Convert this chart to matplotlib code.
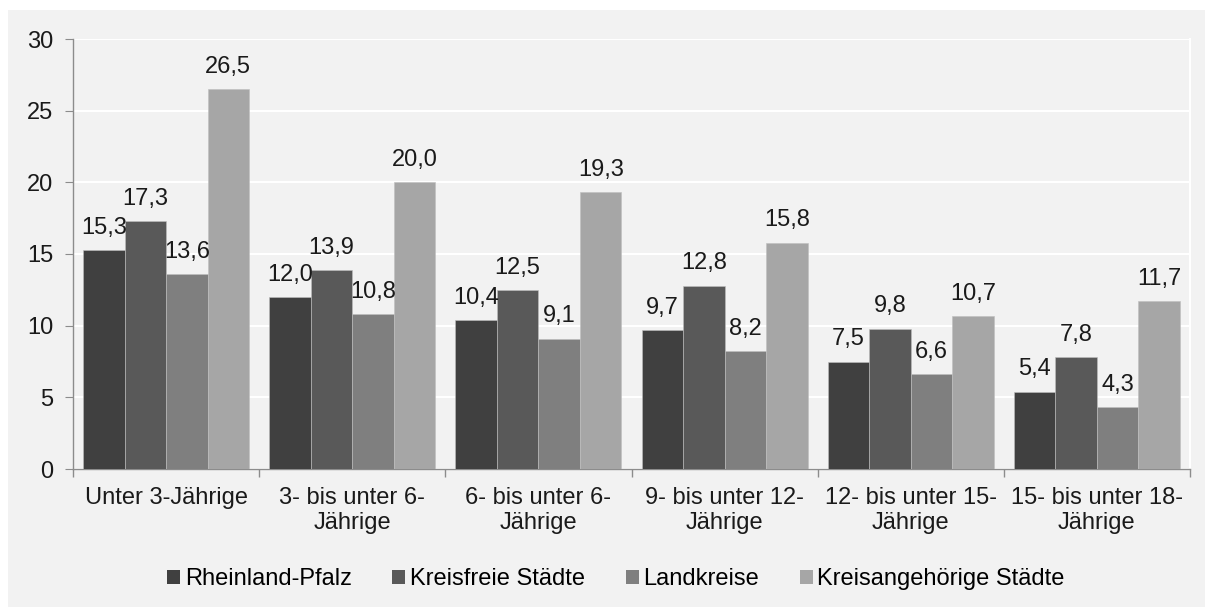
import numpy as np
import matplotlib.pyplot as plt
from matplotlib.patches import Rectangle

plt.rcParams['font.family'] = ['Liberation Sans', 'DejaVu Sans']

CATEGORIES = ['Unter 3-Jährige', '3- bis unter 6-\nJährige', '6- bis unter 6-\nJährige',
              '9- bis unter 12-\nJährige', '12- bis unter 15-\nJährige', '15- bis unter 18-\nJährige']
SERIES = ['Rheinland-Pfalz', 'Kreisfreie Städte', 'Landkreise', 'Kreisangehörige Städte']
RHEINLAND_PFALZ = [15.3, 12.0, 10.4, 9.7, 7.5, 5.4]
KREISFREIE = [17.3, 13.9, 12.5, 12.8, 9.8, 7.8]
LANDKREISE = [13.6, 10.8, 9.1, 8.2, 6.6, 4.3]
KREISANGEHOERIGE = [26.5, 20.0, 19.3, 15.8, 10.7, 11.7]
COLORS = ['#404040', '#595959', '#7f7f7f', '#a6a6a6']
FS = 17

fig = plt.figure(figsize=(12.05, 6.07), dpi=100)
fig.patch.set_facecolor('white')
fig.patches.append(Rectangle((8 / 1205, 0), 1, 597 / 607, transform=fig.transFigure,
                             facecolor='#f2f2f2', edgecolor='none', zorder=-10))

ax = fig.add_axes([73 / 1205, 138 / 607, 1117 / 1205, 430 / 607])
ax.set_facecolor('#f2f2f2')

x = np.arange(len(CATEGORIES))
width = 0.223
values = [RHEINLAND_PFALZ, KREISFREIE, LANDKREISE, KREISANGEHOERIGE]
for i, (name, vals, col) in enumerate(zip(SERIES, values, COLORS)):
    pos = x + (i - 1.5) * width
    bars = ax.bar(pos, vals, width, color=col, label=name, edgecolor='#bfbfbf',
                  linewidth=0.4, zorder=3)
    for b, v in zip(bars, vals):
        ax.annotate(f'{v:.1f}'.replace('.', ','), (b.get_x() + b.get_width() / 2, v),
                    xytext=(0, 8), textcoords='offset points', ha='center', va='bottom',
                    fontsize=FS, color='#1a1a1a', zorder=4)

ax.set_xlim(-0.5, len(CATEGORIES) - 0.5)
ax.set_ylim(0, 30)
ax.set_yticks(np.arange(0, 31, 5))
ax.yaxis.grid(True, color='white', linewidth=1.5, zorder=1)
ax.set_axisbelow(True)

ax.set_xticks(x)
ax.set_xticklabels(CATEGORIES, fontsize=FS, color='#1a1a1a', linespacing=1.2)
ax.set_xticks(np.arange(-0.5, len(CATEGORIES)), minor=True)
ax.tick_params(axis='x', which='major', length=0, pad=13)
ax.tick_params(axis='x', which='minor', length=6, color='#8c8c8c', width=1)
ax.tick_params(axis='y', labelsize=FS, labelcolor='#1a1a1a', length=6, color='#8c8c8c', pad=8)

ax.spines['top'].set_visible(False)
ax.spines['right'].set_color('white')
ax.spines['right'].set_linewidth(1.5)
ax.spines['left'].set_color('#8c8c8c')
ax.spines['bottom'].set_color('#8c8c8c')
ax.spines['left'].set_linewidth(1)
ax.spines['bottom'].set_linewidth(1)

leg = fig.legend(loc='center left', bbox_to_anchor=(167 / 1205, 28 / 607), ncol=4,
                 frameon=False, fontsize=FS, handlelength=0.55, handleheight=0.55,
                 handletextpad=0.2, columnspacing=1.72, borderpad=0, borderaxespad=0)
for p in leg.get_patches():
    p.set_edgecolor('none')

fig.savefig('out.png', dpi=100, facecolor=fig.get_facecolor())
